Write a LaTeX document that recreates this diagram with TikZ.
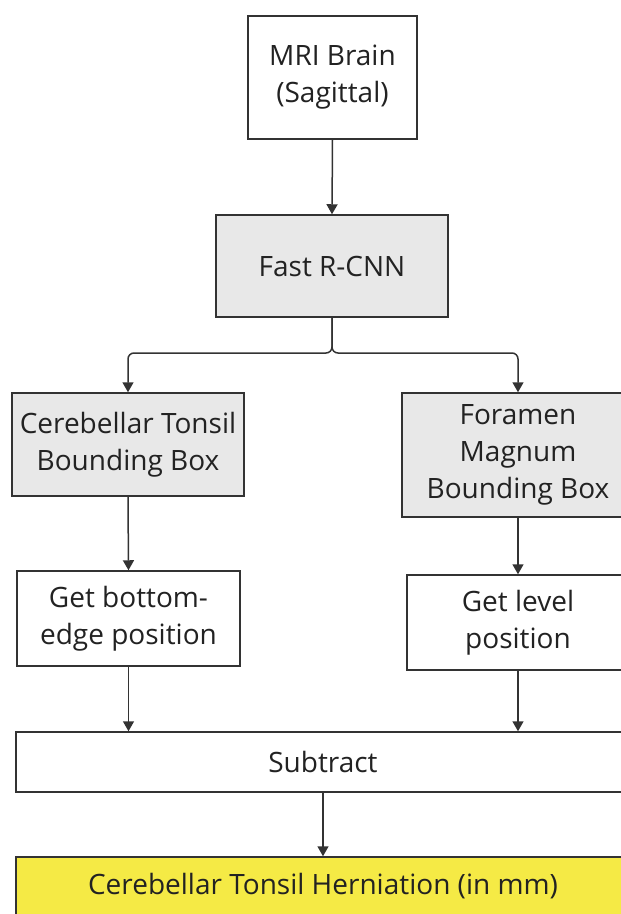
\documentclass[tikz,border=0pt]{standalone}
\usepackage{fontspec}
\setmainfont{Open Sans}
\usetikzlibrary{arrows.meta}
\definecolor{boxgray}{HTML}{E8E8E8}
\definecolor{resyellow}{HTML}{F5EA45}
\definecolor{linecol}{HTML}{333333}
\definecolor{txtcol}{HTML}{222222}
\tikzset{
  fbox/.style={draw=linecol, line width=1.5pt, rectangle, align=center, inner sep=0pt,
    text=txtcol, font=\fontsize{28}{37}\selectfont},
  graybox/.style={fbox, fill=boxgray},
  whitebox/.style={fbox, fill=white},
  yellowbox/.style={fbox, fill=resyellow},
  arr/.style={draw=linecol, line width=1.5pt, -{Triangle[width=11pt,length=10pt]}},
}
\begin{document}
\begin{tikzpicture}[x=1pt,y=-1pt]
\useasboundingbox (0,0) rectangle (621,914);
\clip (0,0) rectangle (621,914);
\fill[white] (0,0) rectangle (621,914);
\node[whitebox, minimum width=169pt, minimum height=123pt] (mri) at (332.5,77.5) {MRI Brain\\(Sagittal)};
\node[graybox, minimum width=232pt, minimum height=102pt] (fast) at (332,266) {Fast R-CNN};
\node[graybox, minimum width=232pt, minimum height=103pt] (cereb) at (128,444.5) {Cerebellar Tonsil\\Bounding Box};
\node[graybox, minimum width=232pt, minimum height=124pt] (foramen) at (518,455) {Foramen\\Magnum\\Bounding Box};
\node[whitebox, minimum width=223pt, minimum height=95pt] (getbottom) at (128.5,618.5) {Get bottom-\\edge position};
\node[whitebox, minimum width=222pt, minimum height=95pt] (getlevel) at (518,622.5) {Get level\\position};
\node[whitebox, minimum width=614pt, minimum height=60pt] (subtract) at (323,762) {Subtract};
\node[yellowbox, minimum width=614pt, minimum height=58pt] (result) at (323,886) {Cerebellar Tonsil Herniation (in mm)};
\draw[arr] (mri.south) -- (fast.north);
\draw[arr, rounded corners=6pt] (fast.south) |- (128,353) -- (cereb.north);
\draw[arr, rounded corners=6pt] (fast.south) |- (518,353) -- (foramen.north);
\draw[arr] (cereb.south) -- (getbottom.north);
\draw[arr] (foramen.south) -- (getlevel.north);
\draw[arr] (getbottom.south) -- (getbottom.south |- subtract.north);
\draw[arr] (getlevel.south) -- (getlevel.south |- subtract.north);
\draw[arr] (subtract.south) -- (result.north);
\end{tikzpicture}
\end{document}
